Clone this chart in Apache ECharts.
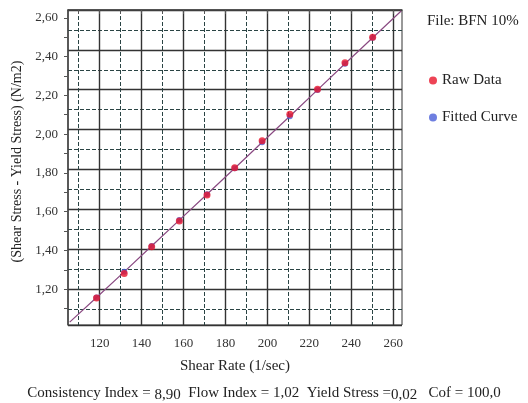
<!DOCTYPE html>
<html><head><meta charset="utf-8">
<script src="https://cdn.jsdelivr.net/npm/echarts@6/dist/echarts.min.js"></script>
<style>html,body{margin:0;padding:0;background:#fff}#c{width:528px;height:403px}</style>
</head><body><div id="c"></div>
<script>
// Shear rate (1/sec) of raw data points
const rawX = [118.5, 131.7, 144.8, 158.0, 171.2, 184.4, 197.5, 210.7, 223.9, 237.0, 250.2];
// Shear stress - yield stress (N/m2), raw data
const rawY = [1.155, 1.282, 1.420, 1.552, 1.686, 1.827, 1.966, 2.102, 2.231, 2.368, 2.499];
// Fitted curve values at the raw shear rates
const fitY = [1.158, 1.290, 1.423, 1.557, 1.690, 1.824, 1.958, 2.092, 2.228, 2.363, 2.497];
// Fitted curve line (extends across the plot)
const fitLineX = [105.7, 118.5, 131.7, 144.8, 158.0, 171.2, 184.4, 197.5, 210.7, 223.9, 237.0, 250.2, 263.8];
const fitLineY = [1.031, 1.158, 1.290, 1.423, 1.557, 1.690, 1.824, 1.958, 2.092, 2.228, 2.363, 2.497, 2.635];
// Axis tick labels
const xLabels = [120, 140, 160, 180, 200, 220, 240, 260];
const xMinorGrid = [110, 130, 150, 170, 190, 210, 230, 250];
const yLabels = [1.2, 1.4, 1.6, 1.8, 2.0, 2.2, 2.4, 2.6];
const yTicks = [1.1, 1.2, 1.3, 1.4, 1.5, 1.6, 1.7, 1.8, 1.9, 2.0, 2.1, 2.2, 2.3, 2.4, 2.5, 2.6];
const legendNames = ['Raw Data', 'Fitted Curve'];
const fileLabel = 'File: BFN 10%';

const serif = 'Liberation Serif';
const zip = (a, b) => a.map((v, i) => [v, b[i]]);
const xMin = 104.9, xMax = 264.2, yMin = 1.016, yMax = 2.640;

const solidLine = {show: true, lineStyle: {color: '#333', width: 1.4, type: 'solid'}};
const dashLine = {show: true, lineStyle: {color: '#2a4444', width: 1, type: [4, 2]}};

const chart = echarts.init(document.getElementById('c'), null, {renderer: 'canvas'});
chart.setOption({
  animation: false,
  backgroundColor: '#fff',
  textStyle: {fontFamily: serif},
  title: [
    {text: fileLabel, left: 422, top: 9, textStyle: {fontFamily: serif, fontSize: 15, fontWeight: 'normal', color: '#222'}},
    {text: '{a|Consistency Index = }{b|8,90}{a|  Flow Index = 1,02  Yield Stress =}{b|0,02}{a|   Cof = 100,0}',
     left: 'center', top: 379,
     textStyle: {fontWeight: 'normal', rich: {
       a: {fontFamily: serif, fontSize: 15, fontWeight: 'normal', color: '#222'},
       b: {fontFamily: serif, fontSize: 15, fontWeight: 'normal', color: '#222', padding: [4, 0, 0, 0]}
     }}}
  ],
  legend: {
    data: legendNames.map(n => ({name: n, icon: 'circle'})),
    orient: 'vertical', left: 424, top: 68, itemWidth: 8, itemHeight: 8, itemGap: 22,
    textStyle: {fontFamily: serif, fontSize: 15, color: '#222'}
  },
  grid: {left: 68, top: 10, right: 126, bottom: 78, show: true, borderColor: '#333', borderWidth: 1},
  xAxis: [
    {type: 'value', position: 'bottom', min: xMin, max: xMax,
     name: 'Shear Rate (1/sec)', nameLocation: 'middle', nameGap: 34,
     nameTextStyle: {fontFamily: serif, fontSize: 15, color: '#222'},
     axisLine: {show: true, lineStyle: {color: '#444', width: 1.5}},
     axisTick: {show: true, customValues: xLabels, length: 4, lineStyle: {color: '#555'}},
     axisLabel: {customValues: xLabels, margin: 12, fontFamily: serif, fontSize: 13, color: '#333'},
     splitLine: solidLine},
    {type: 'value', position: 'bottom', min: xMin, max: xMax,
     axisLine: {show: false},
     axisTick: {show: true, customValues: xMinorGrid, length: 4, lineStyle: {color: '#555'}},
     axisLabel: {show: false},
     splitLine: dashLine}
  ],
  yAxis: [
    {type: 'value', position: 'left', min: yMin, max: yMax,
     name: '(Shear Stress - Yield Stress) (N/m2)', nameLocation: 'middle', nameGap: 42,
     nameTextStyle: {fontFamily: serif, fontSize: 14, color: '#222', padding: [0, 0, 0, 12]},
     axisLine: {show: true, lineStyle: {color: '#444', width: 1.5}},
     axisTick: {show: true, customValues: yTicks, length: 4, lineStyle: {color: '#555'}},
     axisLabel: {customValues: yLabels, margin: 10, fontFamily: serif, fontSize: 13, color: '#333',
                 formatter: v => v.toFixed(2).replace('.', ',')},
     splitLine: {show: false}},
    {type: 'value', position: 'left', inverse: true, min: 0, max: 15.81, interval: 1,
     axisLine: {show: false}, axisTick: {show: false}, axisLabel: {show: false}, splitLine: dashLine},
    {type: 'value', position: 'left', inverse: true, min: 0, max: 15.81, interval: 2,
     axisLine: {show: false}, axisTick: {show: false}, axisLabel: {show: false}, splitLine: solidLine}
  ],
  series: [
    {name: 'Fit Line', type: 'line', data: zip(fitLineX, fitLineY), showSymbol: false, symbol: 'none',
     lineStyle: {color: '#8a4a82', width: 1.2}, silent: true, z: 3},
    {name: 'Fitted Curve', type: 'scatter', data: zip(rawX, fitY), symbol: 'circle', symbolSize: 6,
     itemStyle: {color: '#4a5fd8'}, z: 4},
    {name: 'Raw Data', type: 'scatter', data: zip(rawX, rawY), symbol: 'circle', symbolSize: 7,
     itemStyle: {color: '#e8142a'}, z: 5}
  ]
});
</script></body></html>
